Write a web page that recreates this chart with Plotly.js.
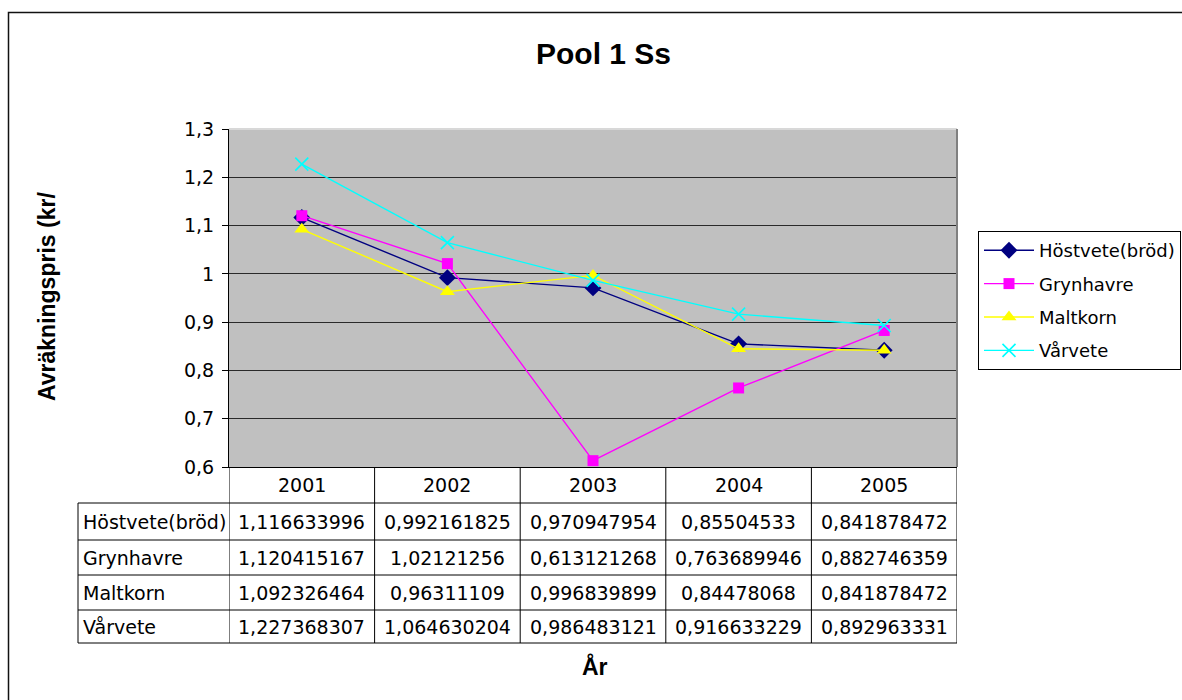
<!DOCTYPE html>
<html>
<head>
<meta charset="utf-8">
<script src="https://cdn.plot.ly/plotly-3.0.1.min.js"></script>
<style>html,body{margin:0;padding:0;background:#fff;overflow:hidden;}#chart{width:1260px;height:700px;}</style>
</head>
<body>
<div id="chart"></div>
<script>
// ---- data ----
const years = [2001, 2002, 2003, 2004, 2005];
const hostvete = [1.116633996, 0.992161825, 0.970947954, 0.85504533, 0.841878472];
const grynhavre = [1.120415167, 1.02121256, 0.613121268, 0.763689946, 0.882746359];
const maltkorn = [1.092326464, 0.96311109, 0.996839899, 0.84478068, 0.841878472];
const varvete = [1.227368307, 1.064630204, 0.986483121, 0.916633229, 0.892963331];
const seriesNames = ['Höstvete(bröd)', 'Grynhavre', 'Maltkorn', 'Vårvete'];
const chartTitle = 'Pool 1 Ss';
const xTitle = 'År';
const yTitle = 'Avräkningspris (kr/';

// ---- geometry helpers (pixel -> paper) ----
// the chart area continues past the 1182px window edge (as in the reference), so the figure is drawn wider and clipped
const W = 1260, H = 700;
const L = 229, R = 957, T = 129, B = 467;
const px = p => (p - L) / (R - L);
const py = p => (B - p) / (B - T);

const seriesData = [hostvete, grynhavre, maltkorn, varvete];
const styles = [
  {color: '#000080', symbol: 'diamond', size: 13},
  {color: '#FF00FF', symbol: 'square', size: 11},
  {color: '#FFFF00', symbol: 'triangle-up', size: 13},
  {color: '#00FFFF', symbol: 'x-thin', size: 13}
];

const traces = seriesData.map((vals, i) => ({
  type: 'scatter', mode: 'lines+markers',
  x: years, y: vals, name: seriesNames[i], legendgroup: 'g' + i,
  line: {color: styles[i].color, width: 1.4},
  marker: styles[i].symbol === 'x-thin'
    ? {symbol: 'x-thin', size: styles[i].size, color: styles[i].color, line: {color: styles[i].color, width: 1.6}}
    : {symbol: styles[i].symbol, size: styles[i].size, color: styles[i].color, line: {width: 0}},
  hoverinfo: 'x+y'
}));

const font = 'DejaVu Sans, Liberation Sans, Arial, sans-serif';
const tfs = 19;
const fmt = v => String(v).replace('.', ',');

const shapes = [];
const annotations = [];

// outer chart border
shapes.push({type: 'rect', xref: 'paper', yref: 'paper', x0: px(8.5), x1: px(1300), y0: py(12.5), y1: py(760),
  line: {color: '#111', width: 1.5}, fillcolor: 'rgba(0,0,0,0)', layer: 'below'});
// plot area top / right borders
shapes.push({type: 'line', xref: 'paper', yref: 'paper', x0: 0, x1: 1, y0: 1, y1: 1, line: {color: '#d8d8d8', width: 2}, layer: 'above'});
shapes.push({type: 'line', xref: 'paper', yref: 'paper', x0: 1, x1: 1, y0: 0, y1: 1, line: {color: '#808080', width: 2}, layer: 'above'});

// data table
const rowLines = [503, 540, 575, 610, 643];
const rowCenters = [521.5, 557.5, 592.5, 626.5];
const headerCenter = 485;
rowLines.forEach(r => shapes.push({type: 'line', xref: 'paper', yref: 'paper', x0: px(78), x1: 1, y0: py(r), y1: py(r), line: {color: '#000', width: 1}}));
shapes.push({type: 'line', xref: 'paper', yref: 'paper', x0: px(78), x1: px(78), y0: py(503), y1: py(643), line: {color: '#000', width: 1}});
for (let k = 0; k <= years.length; k++) {
  const xb = years[0] - 0.5 + k;
  shapes.push({type: 'line', xref: 'x', yref: 'paper', x0: xb, x1: xb, y0: 0, y1: py(643), line: {color: '#000', width: 1}});
}
years.forEach(y => annotations.push({xref: 'x', yref: 'paper', x: y, y: py(headerCenter), text: String(y), showarrow: false,
  xanchor: 'center', yanchor: 'middle', font: {family: font, size: tfs, color: '#000'}}));
seriesNames.forEach((n, i) => {
  annotations.push({xref: 'paper', yref: 'paper', x: px(81), y: py(rowCenters[i]), text: n, showarrow: false,
    xanchor: 'left', yanchor: 'middle', font: {family: font, size: tfs, color: '#000'}});
  seriesData[i].forEach((v, j) => annotations.push({xref: 'x', yref: 'paper', x: years[j], y: py(rowCenters[i]), text: fmt(v),
    showarrow: false, xanchor: 'center', yanchor: 'middle', font: {family: font, size: tfs, color: '#000'}}));
});

// axis titles
annotations.push({xref: 'paper', yref: 'paper', x: px(47), y: py(297), text: '<b>' + yTitle + '</b>', textangle: -90, showarrow: false,
  xanchor: 'center', yanchor: 'middle', font: {family: 'Liberation Sans, Arial, sans-serif', size: 23, color: '#000'}});
annotations.push({xref: 'paper', yref: 'paper', x: px(595), y: py(666), text: '<b>' + xTitle + '</b>', showarrow: false,
  xanchor: 'center', yanchor: 'middle', font: {family: 'Liberation Sans, Arial, sans-serif', size: 23, color: '#000'}});

const layout = {
  width: W, height: H,
  margin: {l: L, r: W - R, t: T, b: H - B, pad: 0},
  paper_bgcolor: '#fff', plot_bgcolor: '#C0C0C0',
  separators: ', ',
  title: {text: '<b>' + chartTitle + '</b>', xref: 'container', yref: 'container', x: 603.5 / W, y: 1 - 53 / H,
    xanchor: 'center', yanchor: 'middle', font: {family: 'Liberation Sans, Arial, sans-serif', size: 30, color: '#000'}},
  xaxis: {range: [years[0] - 0.5, years[years.length - 1] + 0.5], showgrid: false, zeroline: false, showticklabels: false,
    showline: true, linecolor: '#000', linewidth: 1, ticks: '', fixedrange: true},
  yaxis: {range: [0.6, 1.3], tick0: 0.6, dtick: 0.1, showgrid: true, gridcolor: '#2a2a2a', gridwidth: 1, zeroline: false,
    showline: true, linecolor: '#000', linewidth: 1, ticks: 'outside', ticklen: 6, tickcolor: '#000', tickwidth: 1,
    ticklabelstandoff: 4, tickfont: {family: font, size: tfs, color: '#000'}, fixedrange: true},
  legend: {x: px(978), y: py(231), xanchor: 'left', yanchor: 'top', xref: 'paper', yref: 'paper',
    bgcolor: '#fff', bordercolor: '#000', borderwidth: 1, tracegroupgap: 7, itemwidth: 50,
    font: {family: font, size: 18, color: '#000'}},
  showlegend: true,
  shapes: shapes,
  annotations: annotations
};

Plotly.newPlot('chart', traces, layout, {displayModeBar: false, staticPlot: true});
</script>
</body>
</html>
